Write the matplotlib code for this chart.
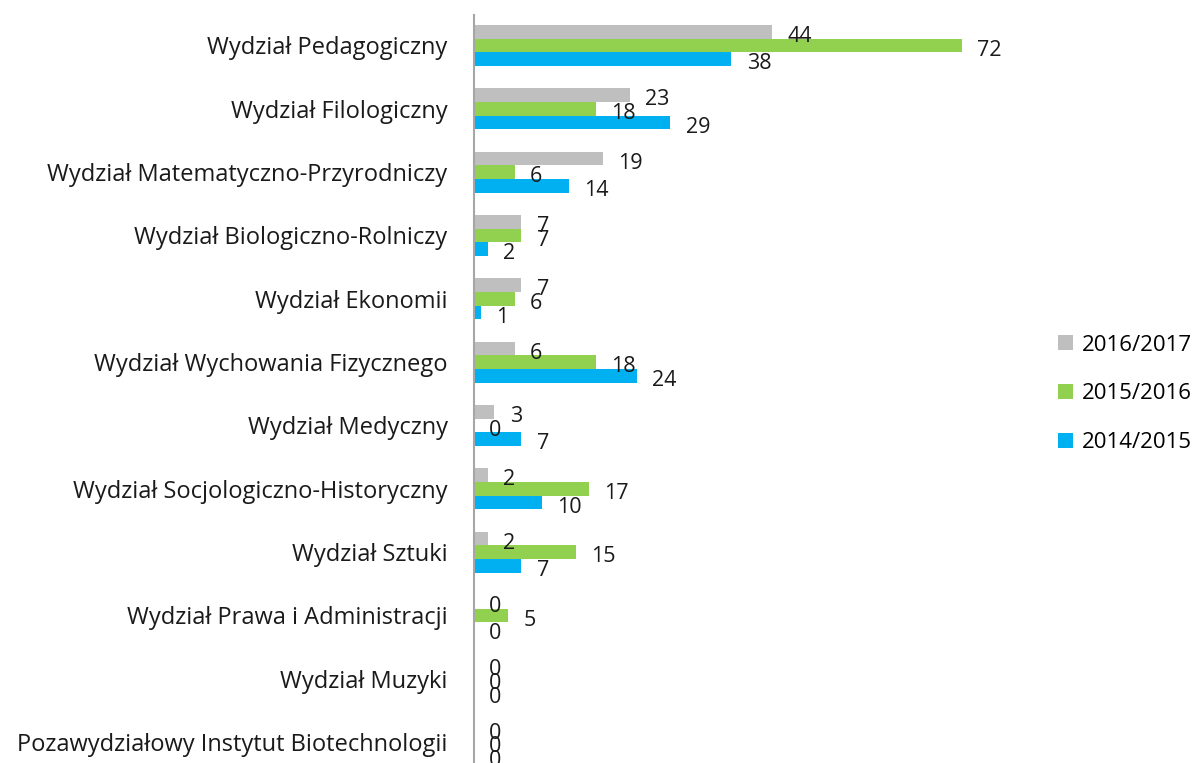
import matplotlib
matplotlib.use('Agg')
import matplotlib.pyplot as plt
import numpy as np

# dane z wykresu
wydzialy = ['Wydział Pedagogiczny', 'Wydział Filologiczny', 'Wydział Matematyczno-Przyrodniczy',
            'Wydział Biologiczno-Rolniczy', 'Wydział Ekonomii', 'Wydział Wychowania Fizycznego',
            'Wydział Medyczny', 'Wydział Socjologiczno-Historyczny', 'Wydział Sztuki',
            'Wydział Prawa i Administracji', 'Wydział Muzyki', 'Pozawydziałowy Instytut Biotechnologii']
lata = ['2016/2017', '2015/2016', '2014/2015']
r2016_2017 = [44, 23, 19, 7, 7, 6, 3, 2, 2, 0, 0, 0]
r2015_2016 = [72, 18, 6, 7, 6, 18, 0, 17, 15, 5, 0, 0]
r2014_2015 = [38, 29, 14, 2, 1, 24, 7, 10, 7, 0, 0, 0]
kolory = ['#BFBFBF', '#92D050', '#00B0F0']

plt.rcParams['font.family'] = ['Open Sans', 'DejaVu Sans']

fig = plt.figure(figsize=(11.95, 7.63), dpi=100)
ax = fig.add_axes([474 / 1195, 0.0, 542 / 1195, 1 - 15 / 763])

y = np.arange(len(wydzialy))
h = 0.216
serie = [r2016_2017, r2015_2016, r2014_2015]
for k, (vals, kol, nazwa) in enumerate(zip(serie, kolory, lata)):
    pos = y + (k - 1) * h
    ax.barh(pos, vals, height=h, color=kol, label=nazwa)
    for p, v in zip(pos, vals):
        ax.annotate(str(v), (v, p), xytext=(11, -3.5), textcoords='offset points',
                    ha='left', va='center', fontsize=15.5, color='#1a1a1a')

ax.set_xlim(0, 80)
ax.set_ylim(11.33, -0.48)
ax.set_yticks(y)
ax.set_yticklabels(wydzialy, fontsize=17, color='#1a1a1a')
ax.tick_params(axis='y', length=0, pad=19)
ax.set_xticks([])
for s in ['top', 'right', 'bottom']:
    ax.spines[s].set_visible(False)
ax.spines['left'].set_color('#A6A6A6')
ax.spines['left'].set_linewidth(1.5)

leg = fig.legend(loc='center left', bbox_to_anchor=(1047 / 1195, 1 - 394 / 763), frameon=False,
                 fontsize=16, handlelength=0.65, handleheight=0.65, handletextpad=0.4,
                 labelspacing=1.25, borderpad=0)

fig.savefig('out.png', dpi=100)
